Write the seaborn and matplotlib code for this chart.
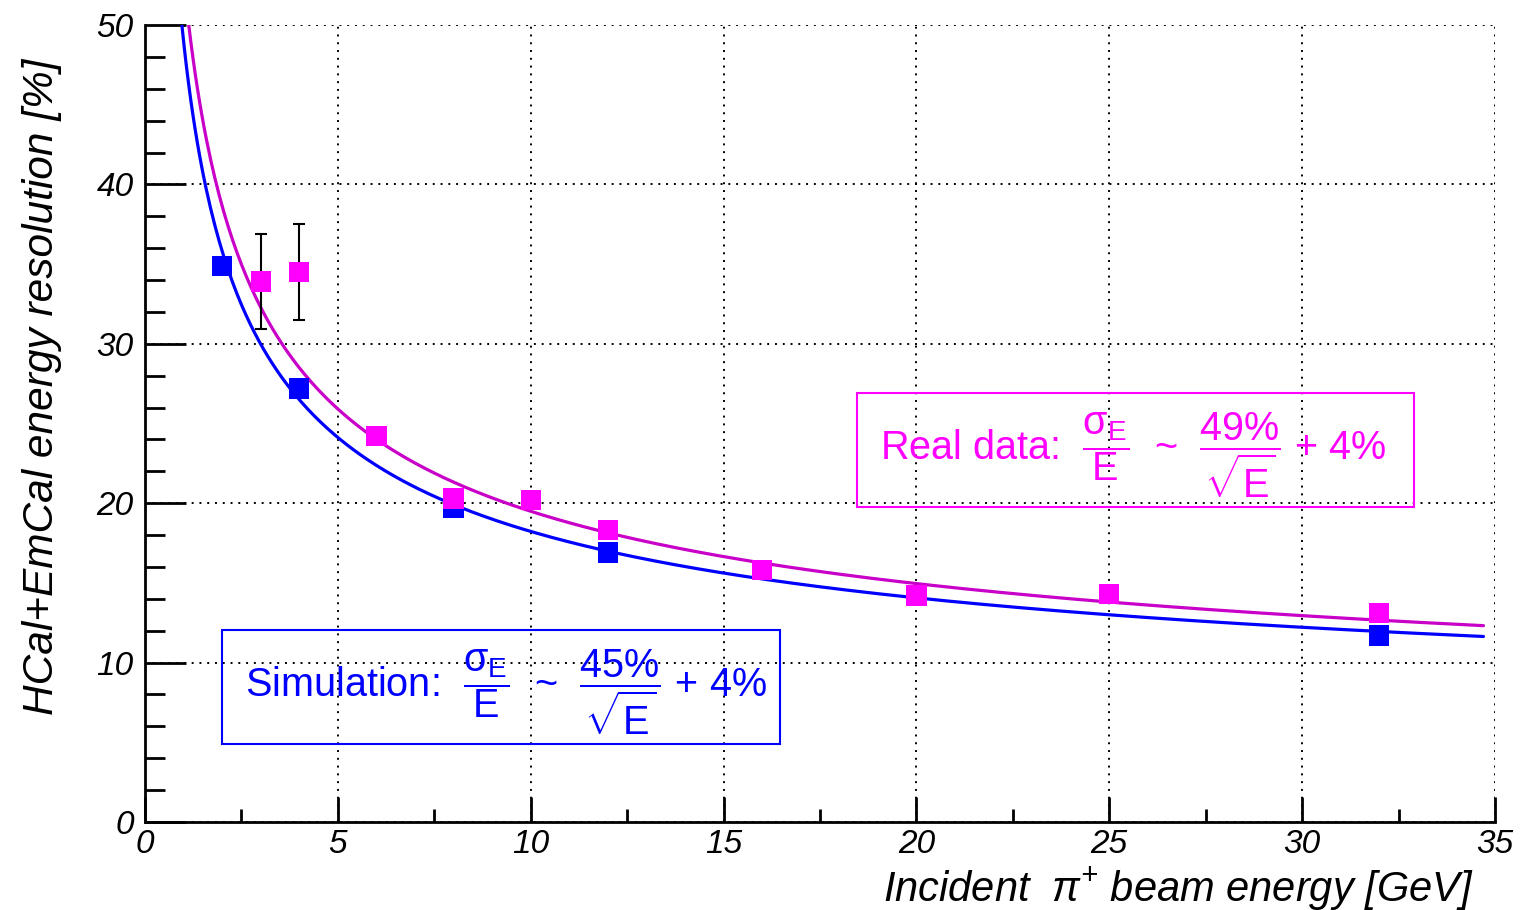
import numpy as np
import pandas as pd
import matplotlib
matplotlib.use("Agg")
import matplotlib.pyplot as plt
import seaborn as sns
from matplotlib.ticker import MultipleLocator
from matplotlib.patches import Rectangle

# ---------------- data ----------------
sim_energy = [2, 4, 8, 12, 32]
sim_resolution = [34.9, 27.2, 19.7, 16.9, 11.7]

data_energy = [3, 4, 6, 8, 10, 12, 16, 20, 25, 32]
data_resolution = [33.9, 34.5, 24.2, 20.3, 20.2, 18.3, 15.8, 14.2, 14.3, 13.1]
data_error = [3.0, 3.0, 0.0, 0.0, 0.0, 0.0, 0.0, 0.0, 0.0, 0.0]

# fit parameters shown in the boxes: sigma/E ~ a/sqrt(E) + b
sim_fit = [45.0, 4.0]
data_fit = [49.0, 4.0]
fit_range = [0.5, 34.7]

x_ticks = [0, 5, 10, 15, 20, 25, 30, 35]
y_ticks = [0, 10, 20, 30, 40, 50]

# ---------------- styling ----------------
sns.set_theme(style="white")
plt.rcParams["font.family"] = ["Liberation Sans", "DejaVu Sans"]
plt.rcParams["mathtext.fontset"] = "custom"
plt.rcParams["mathtext.rm"] = "Liberation Sans"
plt.rcParams["mathtext.it"] = "Liberation Sans:italic"
plt.rcParams["mathtext.sf"] = "Liberation Sans"
plt.rcParams["mathtext.default"] = "regular"

BLUE = "#0000ff"
MAG_MARK = "#ff00ff"
MAG_LINE = "#c800c8"

fig = plt.figure(figsize=(15.26, 9.10), dpi=100)
ax = fig.add_axes([0.095, 0.0967, 0.8847, 0.8758])

# fit curves
E = np.linspace(fit_range[0], fit_range[1], 600)
curves = pd.concat([
    pd.DataFrame({"E": E, "res": sim_fit[0] / np.sqrt(E) + sim_fit[1], "set": "Simulation"}),
    pd.DataFrame({"E": E, "res": data_fit[0] / np.sqrt(E) + data_fit[1], "set": "Real data"}),
])
sns.lineplot(data=curves, x="E", y="res", hue="set", palette={"Simulation": BLUE, "Real data": MAG_LINE},
             estimator=None, sort=False, lw=2.3, legend=False, ax=ax, zorder=3)

# error bars (real data)
err_x = [e for e, s in zip(data_energy, data_error) if s > 0]
err_y = [r for r, s in zip(data_resolution, data_error) if s > 0]
err_s = [s for s in data_error if s > 0]
ax.errorbar(err_x, err_y, yerr=err_s, fmt="none", ecolor="black", elinewidth=1.5,
            capsize=4, capthick=1.5, zorder=4)

# markers
sns.scatterplot(x=sim_energy, y=sim_resolution, marker="s", s=215, color=BLUE,
                edgecolor="none", ax=ax, zorder=5)
sns.scatterplot(x=data_energy, y=data_resolution, marker="s", s=215, color=MAG_MARK,
                edgecolor="none", ax=ax, zorder=6)

ax.set_xlim(0, 35)
ax.set_ylim(0, 50)
ax.set_xticks(x_ticks)
ax.set_yticks(y_ticks)
ax.xaxis.set_minor_locator(MultipleLocator(2.5))
ax.yaxis.set_minor_locator(MultipleLocator(2))

for s in ["top", "right"]:
    ax.spines[s].set_visible(False)
for s in ["left", "bottom"]:
    ax.spines[s].set_color("black")
    ax.spines[s].set_linewidth(2)

ax.grid(True, which="major", color="black", linestyle=(0, (1, 3)), linewidth=1.4)
ax.set_axisbelow(True)

ax.tick_params(axis="x", which="major", direction="in", length=18, width=2, color="black", pad=5,
               labelsize=24, bottom=True, top=False)
ax.tick_params(axis="x", which="minor", direction="in", length=9.5, width=2, color="black",
               bottom=True, top=False)
ax.tick_params(axis="y", which="major", direction="in", length=29.5, width=2, color="black", pad=8,
               labelsize=24, left=True, right=False)
ax.tick_params(axis="y", which="minor", direction="in", length=14.5, width=2, color="black",
               left=True, right=False)
for lab in ax.get_xticklabels() + ax.get_yticklabels():
    lab.set_fontstyle("italic")
    lab.set_color("black")

ax.set_xlabel(r"Incident  $\pi^{+}$ beam energy [GeV]", fontsize=30, style="italic",
              color="black")
ax.xaxis.label.set(ha="right", va="top")
ax.xaxis.set_label_coords(0.984, -0.054)
ax.set_ylabel("HCal+EmCal energy resolution [%]", fontsize=30.5, style="italic", color="black")
ax.yaxis.label.set(rotation_mode="default", ha="center", va="top")
ax.yaxis.set_label_coords(-0.0765, 0.958)

# formula boxes
ax.add_patch(Rectangle((18.46, 19.76), 14.44, 7.14, fill=False, edgecolor=MAG_MARK, lw=1.5, zorder=7))
ax.text(25.62, 23.0, r"Real data:  $\dfrac{\sigma_{E}}{E}$  ~  $\dfrac{49\%}{\sqrt{E}}$ + 4%",
        color=MAG_MARK, fontsize=28.5, ha="center", va="center", zorder=8)

ax.add_patch(Rectangle((2.0, 4.89), 14.46, 7.16, fill=False, edgecolor=BLUE, lw=1.5, zorder=7))
ax.text(9.36, 8.15, r"Simulation:  $\dfrac{\sigma_{E}}{E}$  ~  $\dfrac{45\%}{\sqrt{E}}$ + 4%",
        color=BLUE, fontsize=28.5, ha="center", va="center", zorder=8)

fig.savefig("out.png", dpi=100, facecolor="white")
